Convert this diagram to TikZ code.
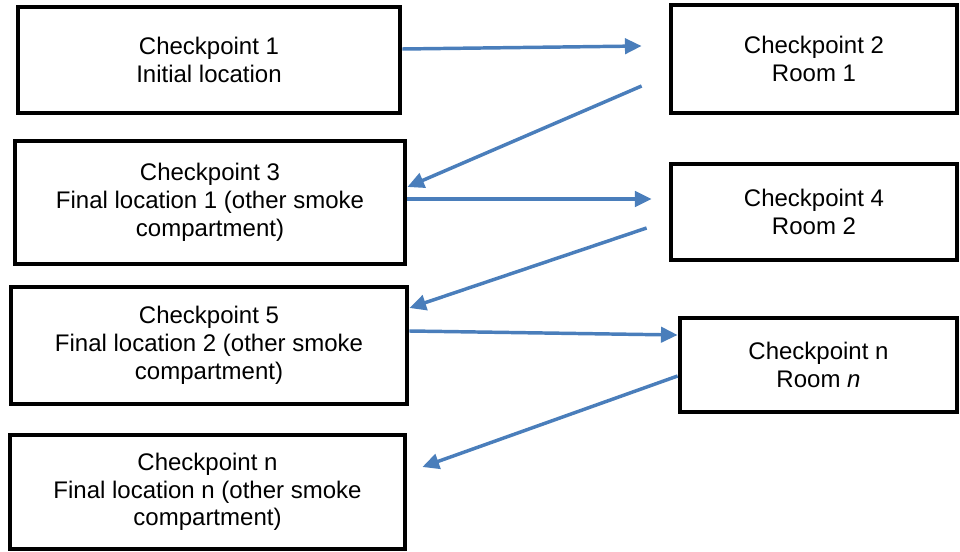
\documentclass[tikz,border=0pt]{standalone}
\usepackage{fontspec}
\setmainfont{Liberation Sans}
\usepackage{xcolor}
\usepackage{tikz}
\usetikzlibrary{arrows.meta}
\definecolor{flowblue}{RGB}{74,126,187}

\begin{document}
\begin{tikzpicture}[x=0.75pt, y=-0.75pt,
      cpbox/.style={draw, line width=3.6pt, inner sep=0pt,
                    font=\fontsize{18}{20.8}\selectfont, align=center},
      arr/.style={-{Triangle[length=12.5pt,width=11.5pt]}, line width=2.6pt, color=flowblue}
  ]
    \useasboundingbox (0,0) rectangle (960,552);
    % left column: checkpoints at final locations
    \node[cpbox, minimum width=286.5pt, minimum height=79.5pt] (cp1) at (209,60)
      {Checkpoint 1\\ Initial location};
    \node[cpbox, minimum width=292.5pt, minimum height=92.25pt] (cp3) at (210,202.5)
      {Checkpoint 3\\ Final location 1 (other smoke\\ compartment)};
    \node[cpbox, minimum width=297pt, minimum height=87.75pt] (cp5) at (209,345.5)
      {Checkpoint 5\\ Final location 2 (other smoke\\ compartment)};
    \node[cpbox, minimum width=296.25pt, minimum height=85.5pt] (cpfin) at (207.5,492)
      {Checkpoint n\\ Final location n (other smoke\\ compartment)};
    % right column: rooms
    \node[cpbox, minimum width=214.5pt, minimum height=81pt] (cp2) at (814,59)
      {Checkpoint 2\\ Room 1};
    \node[cpbox, minimum width=214.5pt, minimum height=72pt] (cp4) at (814,212)
      {Checkpoint 4\\ Room 2};
    \node[cpbox, minimum width=207.75pt, minimum height=70.5pt] (cpn) at (818.5,365)
      {Checkpoint n\\ Room \textit{n}};
    % free arrow ends
    \coordinate (t1) at ([shift={(-27,-13)}]cp2.west);
    \coordinate (s2) at ([shift={(-27,27)}]cp2.west);
    \coordinate (t3) at ([shift={(-17,-13)}]cp4.west);
    \coordinate (s4) at ([shift={(-22,16)}]cp4.west);
    \coordinate (t6) at ([shift={(15,-25)}]cpfin.east);
    \draw[arr] ([shift={(0,-11)}]cp1.east) -- (t1);
    \draw[arr] (s2) -- ([shift={(0,-15.5)}]cp3.east);
    \draw[arr] ([shift={(0,-3.5)}]cp3.east) -- (t3);
    \draw[arr] (s4) -- ([shift={(0,-37.5)}]cp5.east);
    \draw[arr] ([shift={(0,-14.5)}]cp5.east) -- ([shift={(0,-30)}]cpn.west);
    \draw[arr] ([shift={(0,11)}]cpn.west) -- (t6);
  \end{tikzpicture}
\end{document}
